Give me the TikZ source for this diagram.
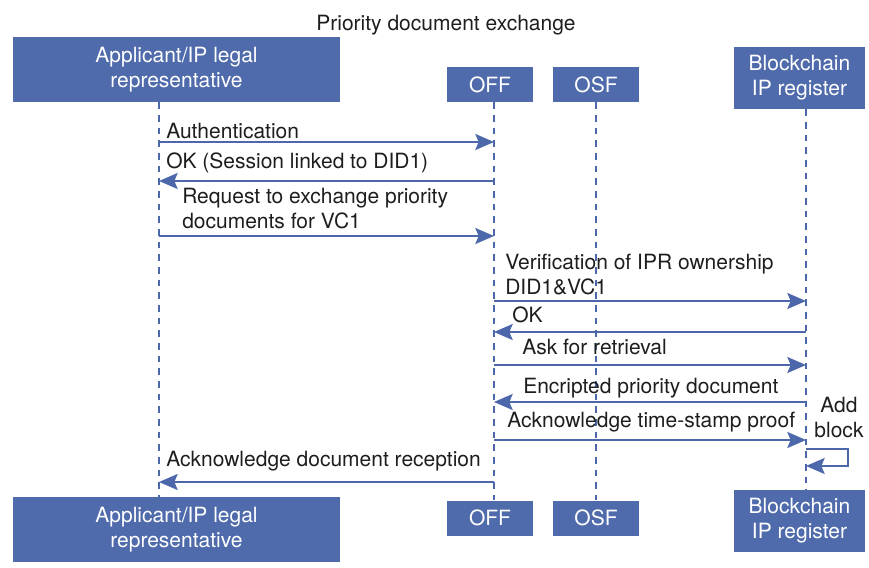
\documentclass[tikz,border=0pt]{standalone}
\usepackage{fontspec}
\setmainfont{TeX Gyre Heros}
\usepackage{xcolor}
\usetikzlibrary{arrows.meta}
\definecolor{boxblue}{RGB}{79,107,171}
\definecolor{lineblue}{RGB}{76,104,170}
\definecolor{txtgray}{RGB}{30,30,30}

\begin{document}
\begin{tikzpicture}[x=0.75pt,y=-0.75pt,
		party/.style={fill=boxblue,text=white,align=center,inner sep=0pt,font=\fontsize{15.75}{18.75}\selectfont},
		life/.style={draw=lineblue,line width=1.1pt,dash pattern=on 5pt off 4.5pt},
		msg/.style={draw=lineblue,line width=1.5pt,-{Stealth[length=14pt,width=12pt,inset=2.5pt]}},
		lbl/.style={text=txtgray,inner sep=0pt,anchor=base west,align=left,font=\fontsize{15.75}{18.75}\selectfont}]
		\useasboundingbox (0,0) rectangle (869,568);
		\node[lbl,anchor=base] (title) at (446,30) {Priority document exchange};
		% top row
		\node[party,minimum width=245.25pt,minimum height=48.75pt] (appT) at (176.5,69.5) {Applicant/IP legal\\representative};
		\node[party,minimum width=64.5pt,minimum height=26.25pt] (offT) at (490,84.5) {OFF};
		\node[party,minimum width=64.5pt,minimum height=26.25pt] (osfT) at (596,84.5) {OSF};
		\node[party,minimum width=98.25pt,minimum height=46.5pt] (bcT) at (799.5,78) {Blockchain\\IP register};
		% bottom row
		\node[party,minimum width=245.25pt,minimum height=48.75pt] (appB) at (176.5,529.5) {Applicant/IP legal\\representative};
		\node[party,minimum width=64.5pt,minimum height=26.25pt] (offB) at (490,518) {OFF};
		\node[party,minimum width=64.5pt,minimum height=26.25pt] (osfB) at (596,518) {OSF};
		\node[party,minimum width=98.25pt,minimum height=46.5pt] (bcB) at (799.5,521) {Blockchain\\IP register};
		% lifelines
		\coordinate (lA) at (159,0);
		\coordinate (lF) at (494,0);
		\coordinate (lS) at (596,0);
		\coordinate (lB) at (806,0);
		\draw[life] (appT.south -| lA) -- (appB.north -| lA);
		\draw[life] (offT.south -| lF) -- (offB.north -| lF);
		\draw[life] (osfT.south -| lS) -- (osfB.north -| lS);
		\draw[life] (bcT.south -| lB) -- (bcB.north -| lB);
		% messages
		\draw[msg] (lA |- 0,142) -- (lF |- 0,142);
		\node[lbl] (t1) at (166,138) {Authentication};
		\draw[msg] (lF |- 0,181) -- (lA |- 0,181);
		\node[lbl] (t2) at (166,168) {OK (Session linked to DID1)};
		\draw[msg] (lA |- 0,236) -- (lF |- 0,236);
		\node[lbl] (t3) at (182,228) {Request to exchange priority\\documents for VC1};
		\draw[msg] (lF |- 0,301) -- (lB |- 0,301);
		\node[lbl] (t4) at (505,294) {Verification of IPR ownership\\DID1\&VC1};
		\draw[msg] (lB |- 0,332) -- (lF |- 0,332);
		\node[lbl] (t5) at (512,322) {OK};
		\draw[msg] (lF |- 0,365) -- (lB |- 0,365);
		\node[lbl] (t6) at (522,354) {Ask for retrieval};
		\draw[msg] (lB |- 0,402) -- (lF |- 0,402);
		\node[lbl] (t7) at (523,393) {Encripted priority document};
		\draw[msg] (lF |- 0,440) -- (lB |- 0,440);
		\node[lbl] (t8) at (507,427) {Acknowledge time-stamp proof};
		\draw[msg] (lB |- 0,449) -| (848,466) -- (lB |- 0,466);
		\node[lbl,align=center,anchor=base] (t9) at (839,437) {Add\\block};
		\draw[msg] (lF |- 0,482) -- (lA |- 0,482);
		\node[lbl] (t10) at (166,466) {Acknowledge document reception};
	\end{tikzpicture}
\end{document}
